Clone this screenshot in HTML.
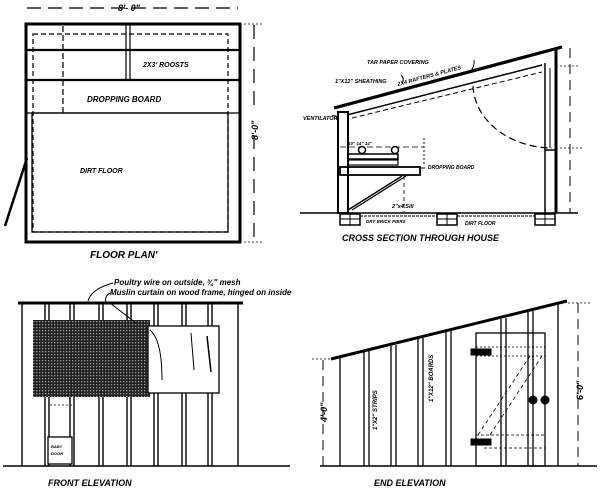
<!DOCTYPE html>
<html><head><style>
html,body{margin:0;padding:0;background:#fff;}
svg{display:block;}
text{font-family:"Liberation Sans",sans-serif;font-style:italic;font-weight:bold;fill:#000;}
</style></head><body>
<svg width="600" height="489" viewBox="0 0 600 489" xmlns="http://www.w3.org/2000/svg">
<defs>
<pattern id="mesh" width="3" height="3" patternUnits="userSpaceOnUse">
<rect width="3" height="3" fill="#222"/><rect width="1.3" height="1.3" fill="#999"/>
</pattern>
</defs>
<g stroke="#000" fill="none">
<!-- FLOOR PLAN -->
<line x1="27" y1="8" x2="238" y2="8" stroke-dasharray="14,7" stroke-width="1.2"/>
<rect x="26" y="24" width="214" height="218" stroke-width="3"/>
<rect x="33" y="34" width="195" height="198" stroke-width="1.2" stroke-dasharray="5,3"/>
<rect x="32" y="113" width="196" height="119" stroke-width="1.3"/>
<line x1="26" y1="50" x2="240" y2="50" stroke-width="2.2"/>
<line x1="26" y1="80" x2="240" y2="80" stroke-width="2.2"/>
<line x1="26" y1="113" x2="240" y2="113" stroke-width="1.3"/>
<line x1="126" y1="24" x2="126" y2="80" stroke-width="1.2"/>
<line x1="130" y1="24" x2="130" y2="80" stroke-width="1.2"/>
<line x1="63" y1="26" x2="63" y2="113" stroke-width="1.2" stroke-dasharray="6,3"/>
<line x1="27" y1="158" x2="5" y2="226" stroke-width="2.5"/>
<line x1="254" y1="25" x2="254" y2="242" stroke-width="1.2" stroke-dasharray="14,8"/>
<line x1="244" y1="24" x2="262" y2="24" stroke-width="0.8" stroke-dasharray="2,2"/>
<line x1="244" y1="242" x2="262" y2="242" stroke-width="0.8" stroke-dasharray="2,2"/>

<!-- CROSS SECTION -->
<line x1="300" y1="213" x2="578" y2="213" stroke-width="1.5"/>
<line x1="334" y1="108" x2="562" y2="47" stroke-width="3.2"/>
<line x1="347" y1="115" x2="542" y2="65" stroke-width="1.5"/>
<line x1="352" y1="118" x2="542" y2="72" stroke-width="1" stroke-dasharray="5,3"/>
<rect x="338" y="112" width="10" height="101" stroke-width="2"/>
<line x1="556" y1="48" x2="556" y2="213" stroke-width="3"/>
<line x1="545" y1="63" x2="545" y2="213" stroke-width="1.5"/>
<line x1="550" y1="68" x2="550" y2="148" stroke-width="1"/>
<line x1="545" y1="150" x2="556" y2="150" stroke-width="1.5"/>
<path d="M473 86 A80 64 0 0 0 552 148" stroke-width="1.2" stroke-dasharray="7,4"/>
<rect x="348" y="154" width="50" height="5" stroke-width="1.5"/>
<rect x="348" y="160" width="50" height="5" stroke-width="1.2"/>
<circle cx="362" cy="150" r="3.5" stroke-width="1.5"/>
<circle cx="395" cy="150" r="3.5" stroke-width="1.5"/>
<rect x="340" y="167" width="80" height="8" stroke-width="1.8"/>
<line x1="348" y1="210" x2="402" y2="176" stroke-width="1.5"/>
<line x1="352" y1="210" x2="406" y2="176" stroke-width="1.2"/>
<line x1="420" y1="168" x2="425" y2="168" stroke-width="1"/>
<line x1="424" y1="138" x2="424" y2="166" stroke-width="1" stroke-dasharray="2,2"/>
<line x1="340" y1="147" x2="424" y2="147" stroke-width="0.8" stroke-dasharray="6,3"/>
<line x1="404" y1="176" x2="404" y2="213" stroke-width="0.8" stroke-dasharray="4,3"/>
<rect x="340" y="214" width="20" height="11" stroke-width="1.5"/>
<line x1="350" y1="214" x2="350" y2="225"/><line x1="340" y1="219" x2="360" y2="219"/>
<rect x="437" y="214" width="20" height="11" stroke-width="1.5"/>
<line x1="447" y1="214" x2="447" y2="225"/><line x1="437" y1="219" x2="457" y2="219"/>
<rect x="535" y="214" width="20" height="11" stroke-width="1.5"/>
<line x1="545" y1="214" x2="545" y2="225"/><line x1="535" y1="219" x2="555" y2="219"/>
<line x1="360" y1="216" x2="437" y2="216" stroke-width="1" stroke-dasharray="3,1"/>
<line x1="457" y1="216" x2="535" y2="216" stroke-width="1" stroke-dasharray="3,1"/>
<line x1="570" y1="48" x2="570" y2="213" stroke-width="1" stroke-dasharray="10,6"/>
<line x1="556" y1="66" x2="580" y2="66" stroke-width="0.8" stroke-dasharray="2,2"/>
<line x1="556" y1="148" x2="582" y2="148" stroke-width="0.8" stroke-dasharray="2,2"/>
<path d="M470 72 q5 -6 4 -12" stroke-width="1"/>
<path d="M402 83 q3 -4 -1 -8" stroke-width="1"/>
<path d="M332 116 q6 -2 6 8" stroke-width="1"/>

<!-- FRONT ELEVATION -->
<line x1="3" y1="466" x2="290" y2="466" stroke-width="1.5"/>
<line x1="18" y1="303" x2="243" y2="303" stroke-width="3"/>
<g stroke-width="1.4">
<line x1="22" y1="303" x2="22" y2="466"/><line x1="45" y1="303" x2="45" y2="466"/><line x1="49" y1="303" x2="49" y2="466"/>
<line x1="70" y1="303" x2="70" y2="466"/><line x1="74" y1="303" x2="74" y2="466"/>
<line x1="99" y1="303" x2="99" y2="466"/><line x1="103" y1="303" x2="103" y2="466"/>
<line x1="127" y1="303" x2="127" y2="466"/><line x1="131" y1="303" x2="131" y2="466"/>
<line x1="154" y1="303" x2="154" y2="466"/><line x1="158" y1="303" x2="158" y2="466"/>
<line x1="182" y1="303" x2="182" y2="466"/><line x1="186" y1="303" x2="186" y2="466"/>
<line x1="208" y1="303" x2="208" y2="466"/><line x1="212" y1="303" x2="212" y2="466"/>
<line x1="238" y1="303" x2="238" y2="466"/>
</g>
<rect x="33" y="320" width="117" height="77" fill="url(#mesh)" stroke="none"/>
<rect x="148" y="326" width="71" height="67" fill="#fff" stroke-width="1.3"/>
<path d="M150 330 q12 10 12 50" stroke-width="1"/>
<line x1="191" y1="333" x2="194" y2="370" stroke-width="1"/>
<line x1="207" y1="336" x2="211" y2="372" stroke-width="1.5"/>
<rect x="48" y="437" width="24" height="27" fill="#fff" stroke-width="1.3"/>
<line x1="50" y1="405" x2="72" y2="405" stroke-dasharray="2,2" stroke-width="0.8"/>
<path d="M88 301 q3 -12 25 -18" stroke-width="1"/>
<path d="M106 303 q-2 -8 5 -10 M110 303 l26 20" stroke-width="1"/>

<!-- END ELEVATION -->
<line x1="320" y1="466" x2="597" y2="466" stroke-width="1.5"/>
<line x1="331" y1="359" x2="567" y2="301" stroke-width="3"/>
<g stroke-width="1.3">
<line x1="340" y1="357" x2="340" y2="466"/>
<line x1="364" y1="352" x2="364" y2="466"/><line x1="369" y1="351" x2="369" y2="466"/>
<line x1="391" y1="346" x2="391" y2="466"/><line x1="396" y1="345" x2="396" y2="466"/>
<line x1="418" y1="339" x2="418" y2="466"/><line x1="423" y1="338" x2="423" y2="466"/>
<line x1="446" y1="332" x2="446" y2="466"/><line x1="451" y1="331" x2="451" y2="466"/>
<line x1="501" y1="319" x2="501" y2="466"/><line x1="506" y1="318" x2="506" y2="466"/>
<line x1="528" y1="312" x2="528" y2="466"/><line x1="533" y1="311" x2="533" y2="466"/>
<line x1="558" y1="304" x2="558" y2="466"/>
</g>
<rect x="476" y="333" width="69" height="133" stroke-width="1.3"/>
<line x1="476" y1="347" x2="545" y2="347" stroke-dasharray="2,2" stroke-width="0.8"/>
<line x1="476" y1="356" x2="545" y2="356" stroke-dasharray="2,2" stroke-width="0.8"/>
<line x1="476" y1="435" x2="545" y2="435" stroke-dasharray="3,2" stroke-width="0.8"/>
<line x1="484" y1="448" x2="545" y2="448" stroke-dasharray="3,2" stroke-width="0.8"/>
<line x1="478" y1="435" x2="530" y2="356" stroke-dasharray="4,3" stroke-width="0.8"/>
<line x1="490" y1="435" x2="542" y2="356" stroke-dasharray="4,3" stroke-width="0.8"/>
<rect x="471" y="349" width="20" height="6" fill="#000"/>
<rect x="471" y="439" width="20" height="6" fill="#000"/>
<circle cx="533" cy="400" r="4" fill="#000"/><circle cx="545" cy="400" r="4" fill="#000"/>
<line x1="323" y1="360" x2="323" y2="466" stroke-width="1" stroke-dasharray="10,6"/>
<line x1="578" y1="303" x2="578" y2="466" stroke-width="1" stroke-dasharray="10,6"/>
<line x1="312" y1="359" x2="330" y2="359" stroke-dasharray="2,2" stroke-width="0.8"/>
<line x1="568" y1="303" x2="592" y2="303" stroke-dasharray="2,2" stroke-width="0.8"/>
</g>
<!-- labels -->
<text x="118" y="11" font-size="9">8'- 0"</text>
<text x="143" y="67" font-size="7">2X3' ROOSTS</text>
<text x="87" y="102" font-size="8">DROPPING BOARD</text>
<text x="80" y="173" font-size="7">DIRT FLOOR</text>
<text x="90" y="258" font-size="10">FLOOR PLAN'</text>
<text transform="translate(258,130) rotate(-90)" font-size="9" fill="#fff" stroke="#fff" stroke-width="4">8'-0"</text>
<text transform="translate(258,140) rotate(-90)" font-size="9">8'-0"</text>
<text x="367" y="64" font-size="5.5">TAR PAPER COVERING</text>
<text x="335" y="83" font-size="5.5">1"X12" SHEATHING</text>
<text transform="translate(398,86) rotate(-15)" font-size="5.5">2X4 RAFTERS &amp; PLATES</text>
<text x="303" y="120" font-size="5.5">VENTILATOR</text>
<text x="348" y="145" font-size="4.5">10" 14"   14"</text>
<text x="428" y="169" font-size="5">DROPPING BOARD</text>
<text x="392" y="208" font-size="5.5">2"x4 Sill</text>
<text x="366" y="223" font-size="4.5">DRY BRICK PIERS</text>
<text x="465" y="225" font-size="5">DIRT FLOOR</text>
<text x="342" y="241" font-size="9">CROSS SECTION THROUGH HOUSE</text>
<text x="114" y="285" font-size="8" font-weight="normal">Poultry wire on outside, ¾" mesh</text>
<text x="110" y="295" font-size="8" font-weight="normal">Muslin curtain on wood frame, hinged on inside</text>
<text x="51" y="448" font-size="4">BABY</text><text x="51" y="455" font-size="4">DOOR</text>
<text x="48" y="486" font-size="9">FRONT ELEVATION</text>
<text transform="translate(377,430) rotate(-90)" font-size="6">1"X2" STRIPS</text>
<text transform="translate(433,402) rotate(-90)" font-size="6">1"X12" BOARDS</text>
<text transform="translate(327,422) rotate(-90)" font-size="9">4'-0"</text>
<text transform="translate(583,400) rotate(-90)" font-size="9">6'-0"</text>
<text x="374" y="486" font-size="9">END ELEVATION</text>
</svg>
</body></html>
